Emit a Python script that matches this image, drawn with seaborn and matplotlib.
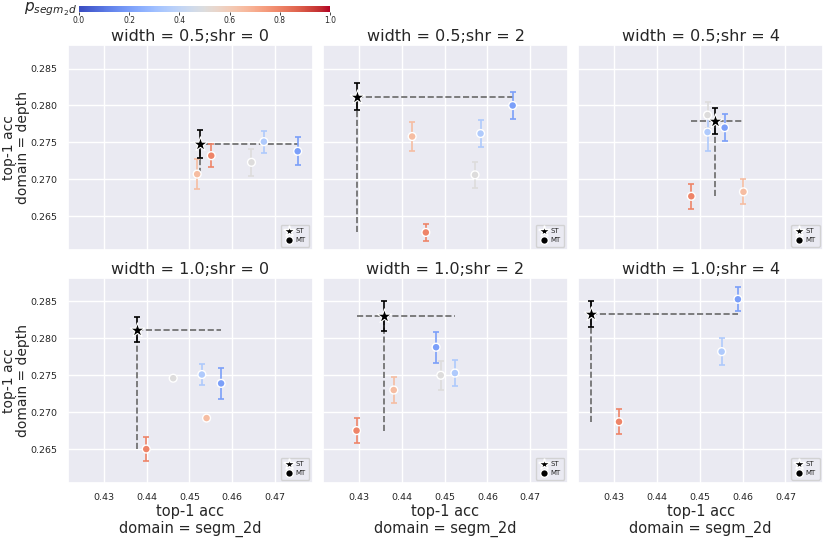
import pandas as pd
import seaborn as sns
import matplotlib.pyplot as plt
from matplotlib.lines import Line2D

sns.set_theme(style="darkgrid")
plt.rcParams["font.family"] = ["DejaVu Sans"]

# panel settings
widths = [0.5, 0.5, 0.5, 1.0, 1.0, 1.0]
shrs = [0, 2, 4, 0, 2, 4]

# single task (ST) results per panel
st_x = [0.4525, 0.4296, 0.4536, 0.4378, 0.4359, 0.4245]
st_y = [0.2748, 0.2812, 0.2779, 0.2812, 0.2830, 0.2833]
st_err = [0.0019, 0.0018, 0.0017, 0.0017, 0.0020, 0.0018]

# multi task (MT) results per panel
mt_p = [
    [0.65, 0.8, 0.5, 0.35, 0.2],
    [0.65, 0.8, 0.5, 0.35, 0.2],
    [0.5, 0.35, 0.2, 0.8, 0.65],
    [0.5, 0.35, 0.2, 0.65, 0.8],
    [0.2, 0.5, 0.35, 0.65, 0.8],
    [0.2, 0.35, 0.8],
]
mt_x = [
    [0.4518, 0.4551, 0.4645, 0.4674, 0.4753],
    [0.4424, 0.4456, 0.4571, 0.4584, 0.4659],
    [0.4518, 0.4518, 0.4558, 0.4480, 0.4602],
    [0.4462, 0.4529, 0.4574, 0.4540, 0.4399],
    [0.4480, 0.4491, 0.4524, 0.4381, 0.4294],
    [0.4589, 0.4551, 0.4311],
]
mt_y = [
    [0.2707, 0.2732, 0.2723, 0.2751, 0.2738],
    [0.2758, 0.2628, 0.2706, 0.2762, 0.2800],
    [0.2787, 0.2764, 0.2770, 0.2677, 0.2683],
    [0.2746, 0.2751, 0.2739, 0.2692, 0.2650],
    [0.2788, 0.2750, 0.2753, 0.2730, 0.2675],
    [0.2853, 0.2782, 0.2687],
]
mt_err = [
    [0.0020, 0.0016, 0.0018, 0.0015, 0.0019],
    [0.0020, 0.0012, 0.0018, 0.0018, 0.0018],
    [0.0018, 0.0026, 0.0018, 0.0017, 0.0017],
    [0.0, 0.0014, 0.0021, 0.0, 0.0016],
    [0.0021, 0.0020, 0.0018, 0.0017, 0.0017],
    [0.0016, 0.0018, 0.0017],
]

xticks = [0.43, 0.44, 0.45, 0.46, 0.47]
yticks = [0.265, 0.270, 0.275, 0.280, 0.285]

cmap = plt.get_cmap("coolwarm")
norm = plt.Normalize(0, 1)

fig, axes = plt.subplots(2, 3, figsize=(8.3, 5.38), dpi=100, sharex=True, sharey=True)
fig.subplots_adjust(left=0.0819, right=0.9916, top=0.9164, bottom=0.1022,
                    wspace=0.043, hspace=0.135)

handles = [
    Line2D([], [], marker="*", color="black", markeredgecolor="white", linestyle="",
           markersize=9, label="ST"),
    Line2D([], [], marker="o", color="black", markeredgecolor="white", linestyle="",
           markersize=5.5, label="MT"),
]

for i, ax in enumerate(axes.flat):
    df = pd.DataFrame({"x": mt_x[i], "y": mt_y[i], "err": mt_err[i], "p": mt_p[i]})
    all_x = mt_x[i] + [st_x[i]]
    all_y = mt_y[i] + [st_y[i]]

    # dashed guide lines through the ST point
    ax.hlines(st_y[i], min(all_x), max(all_x), colors="dimgray", linestyles="--",
              linewidth=1.2, zorder=1)
    ax.vlines(st_x[i], min(all_y), max(all_y), colors="dimgray", linestyles="--",
              linewidth=1.2, zorder=1)

    for r in df.itertuples():
        if r.err > 0:
            ax.errorbar(r.x, r.y, yerr=r.err, fmt="none", color=cmap(norm(r.p)),
                        capsize=2.5, elinewidth=1.2, capthick=1.2, zorder=2)
    ax.errorbar(st_x[i], st_y[i], yerr=st_err[i], fmt="none", color="black",
                capsize=2.5, elinewidth=1.2, capthick=1.2, zorder=2)

    sns.scatterplot(data=df, x="x", y="y", hue="p", palette="coolwarm", hue_norm=(0, 1),
                    s=32, edgecolor="white", linewidth=1, legend=False, ax=ax, zorder=3)
    sns.scatterplot(x=[st_x[i]], y=[st_y[i]], marker="*", color="black", s=120,
                    edgecolor="white", linewidth=0.8, ax=ax, zorder=4)

    ax.set_title(f"width = {widths[i]};shr = {shrs[i]}", fontsize=11.5, pad=3)
    ax.set_xlabel("")
    ax.set_ylabel("")
    ax.set_xticks(xticks)
    ax.set_yticks(yticks)
    ax.set_xlim(0.4216, 0.4788)
    ax.set_ylim(0.2604, 0.2882)
    ax.tick_params(labelsize=6.8, pad=1.5)
    ax.legend(handles=handles, loc="lower right", fontsize=5, borderpad=0.5,
              handletextpad=0.4, handlelength=1.2, labelspacing=0.4)

for ax in axes[:, 0]:
    ax.set_ylabel("top-1 acc\ndomain = depth", fontsize=10, linespacing=1.0)
    ax.yaxis.set_label_coords(-0.155, 0.5)
for ax in axes[1, :]:
    ax.set_xlabel("top-1 acc\ndomain = segm_2d", fontsize=10.5, labelpad=1)

# colorbar on top
cax = fig.add_axes([79 / 830, 1 - 12 / 538, 251 / 830, 6.5 / 538])
sm = plt.cm.ScalarMappable(cmap=cmap, norm=norm)
cb = fig.colorbar(sm, cax=cax, orientation="horizontal")
cb.outline.set_visible(False)
cb.set_ticks([0.0, 0.2, 0.4, 0.6, 0.8, 1.0])
cax.grid(False)
cax.tick_params(labelsize=5.5, length=2, width=0.6, pad=1)
fig.text(77 / 830, 1 - 9 / 538, r"$p_{segm_2d}$", ha="right", va="center", fontsize=11)

fig.savefig("out.png", dpi=100)
